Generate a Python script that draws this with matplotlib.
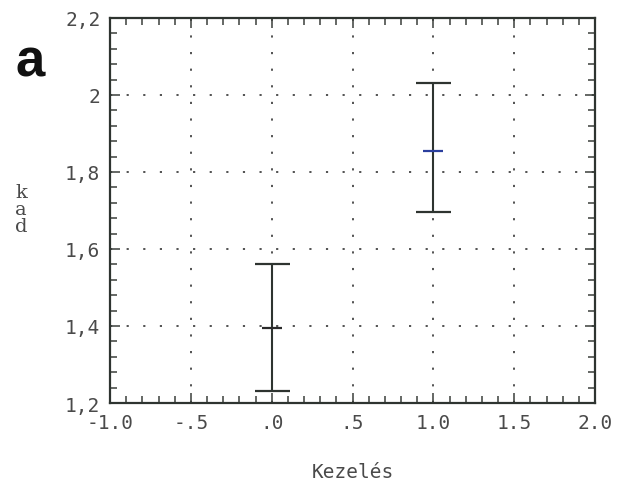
import matplotlib
matplotlib.use("Agg")
import matplotlib.pyplot as plt
from matplotlib.ticker import MultipleLocator, FixedLocator, FixedFormatter

# Treatment groups and their interval estimates
groups = [0.0, 1.0]
means = [1.395, 1.855]
lower = [1.230, 1.695]
upper = [1.562, 2.030]
mean_colors = ["#2a2a2a", "#2b3f9e"]

x_ticks = [-1.0, -0.5, 0.0, 0.5, 1.0, 1.5, 2.0]
x_ticklabels = ["-1.0", "-.5", ".0", ".5", "1.0", "1.5", "2.0"]
y_ticks = [1.2, 1.4, 1.6, 1.8, 2.0, 2.2]
y_ticklabels = ["1,2", "1,4", "1,6", "1,8", "2", "2,2"]

ink = "#2e3430"
text_col = "#4a4a4a"
mono = "DejaVu Sans Mono"

fig = plt.figure(figsize=(6.18, 4.85), dpi=100)
ax = fig.add_axes([0.178, 0.167, 0.785, 0.794])

ax.set_xlim(-1.0, 2.0)
ax.set_ylim(1.2, 2.2)

# dotted grid at the major ticks
ax.xaxis.set_major_locator(FixedLocator(x_ticks))
ax.xaxis.set_major_formatter(FixedFormatter(x_ticklabels))
ax.yaxis.set_major_locator(FixedLocator(y_ticks))
ax.yaxis.set_major_formatter(FixedFormatter(y_ticklabels))
ax.xaxis.set_minor_locator(MultipleLocator(0.1))
ax.yaxis.set_minor_locator(MultipleLocator(0.04))
ax.grid(True, which="major", color="#444444", linestyle=(0, (1.2, 8)), linewidth=1.3)

ax.tick_params(which="both", direction="in", top=True, right=True,
               color="#3a3f3b", width=1.1)
ax.tick_params(which="major", length=7, labelsize=14, labelcolor=text_col, pad=7)
ax.tick_params(which="minor", length=5)
for lab in ax.get_xticklabels() + ax.get_yticklabels():
    lab.set_fontfamily(mono)

for sp in ax.spines.values():
    sp.set_color(ink)
    sp.set_linewidth(1.6)

# interval bars
for g, m, lo, hi, c in zip(groups, means, lower, upper, mean_colors):
    ax.errorbar([g], [m], yerr=[[m - lo], [hi - m]], fmt="none",
                ecolor=ink, elinewidth=1.5, capsize=12.6, capthick=1.6, zorder=3)
    ax.plot([g], [m], marker="_", markersize=14, markeredgewidth=1.6,
            color=c, linestyle="none", zorder=4)

ax.set_xlabel("Kezelés", fontfamily=mono, fontsize=14, color=text_col, labelpad=22)

# vertically stacked axis letters
fig.text(0.034, 0.567, "k\na\nd", fontfamily="DejaVu Serif", fontsize=14,
         color=text_col, ha="center", va="center", linespacing=0.95)

# panel letter
fig.text(0.049, 0.872, "a", fontfamily="Liberation Sans", fontweight="bold",
         fontsize=38, color="#111111", ha="center", va="center")

fig.savefig("out.png", dpi=100)
